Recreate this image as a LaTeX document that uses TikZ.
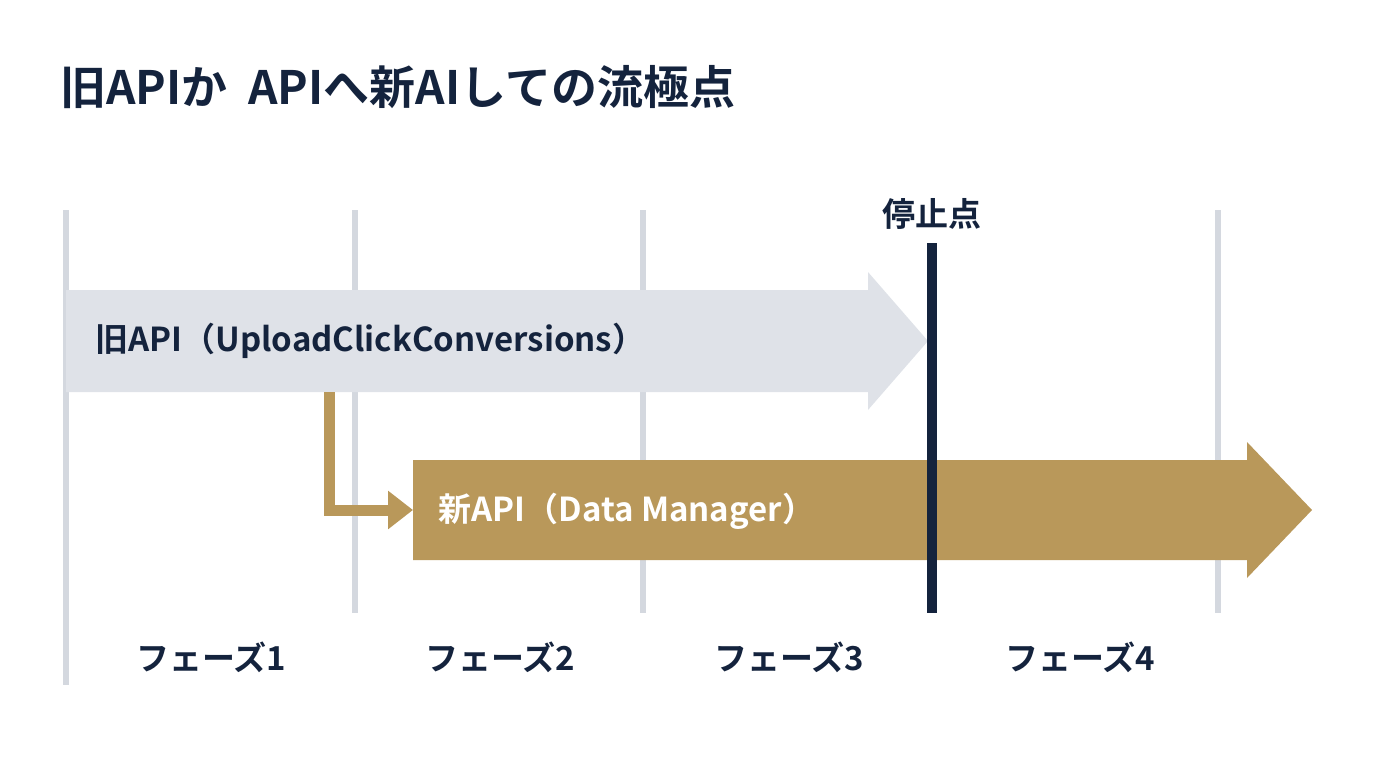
\documentclass[tikz,border=0pt]{standalone}
\usepackage{fontspec}
\setmainfont{Noto Sans CJK JP}[BoldFont={Noto Sans CJK JP Bold}]
\usepackage{tikz}
\usetikzlibrary{arrows.meta,positioning}
\definecolor{navy}{HTML}{14233D}
\definecolor{lgray}{HTML}{D4D8DF}
\definecolor{agray}{HTML}{DFE2E8}
\definecolor{gold}{HTML}{B9985A}

\begin{document}
\begin{tikzpicture}[x=1pt,y=-1pt,
  ph/.style={draw=lgray,line width=6pt},
  plab/.style={font=\bfseries\fontsize{33}{36}\selectfont,text=navy},
  alab/.style={font=\bfseries\fontsize{33}{36}\selectfont,anchor=west},
  link/.style={draw=gold,line width=11pt,line join=miter,-{Triangle[length=25pt,width=37pt]}}]
\useasboundingbox (0,0) rectangle (1376,768);
\node[font=\bfseries\fontsize{46}{50}\selectfont,text=navy,anchor=west,inner sep=0pt] (title) at (60,87) {旧APIか\ \ APIへ新AIしての流極点};
% phase lines
\draw[ph] (66,210) -- (66,685); \draw[ph] (355,210) -- (355,613);
\draw[ph] (643,210) -- (643,613); \draw[ph] (1218,210) -- (1218,613);
% arrows
\fill[agray] (66,290) -- (868,290) -- (868,272) -- (928,341) -- (868,410) -- (868,392) -- (66,392) -- cycle;
\fill[gold] (413,460) -- (1247,460) -- (1247,442) -- (1312,510) -- (1247,578) -- (1247,560) -- (413,560) -- cycle;
\node[alab,text=navy] (oldlab) at (92,341) {旧API（UploadClickConversions）};
\node[alab,text=white] (newlab) at (435,511) {新API（Data Manager）};
\coordinate (split) at (329,392); \coordinate (newtail) at (413,510);
\draw[link] (split) |- (newtail);
% stop
\node[plab] (stop) at (932,214) {停止点};
\coordinate (stopend) at (932,613);
\draw[navy,line width=10pt] (stop.south) ++(0,10) -- (stopend);
\node[plab] (ph1) at (211,657) {フェーズ1};
\node[plab] (ph2) at (500,657) {フェーズ2};
\node[plab] (ph3) at (789,657) {フェーズ3};
\node[plab] (ph4) at (1080,657) {フェーズ4};
\end{tikzpicture}
\end{document}
